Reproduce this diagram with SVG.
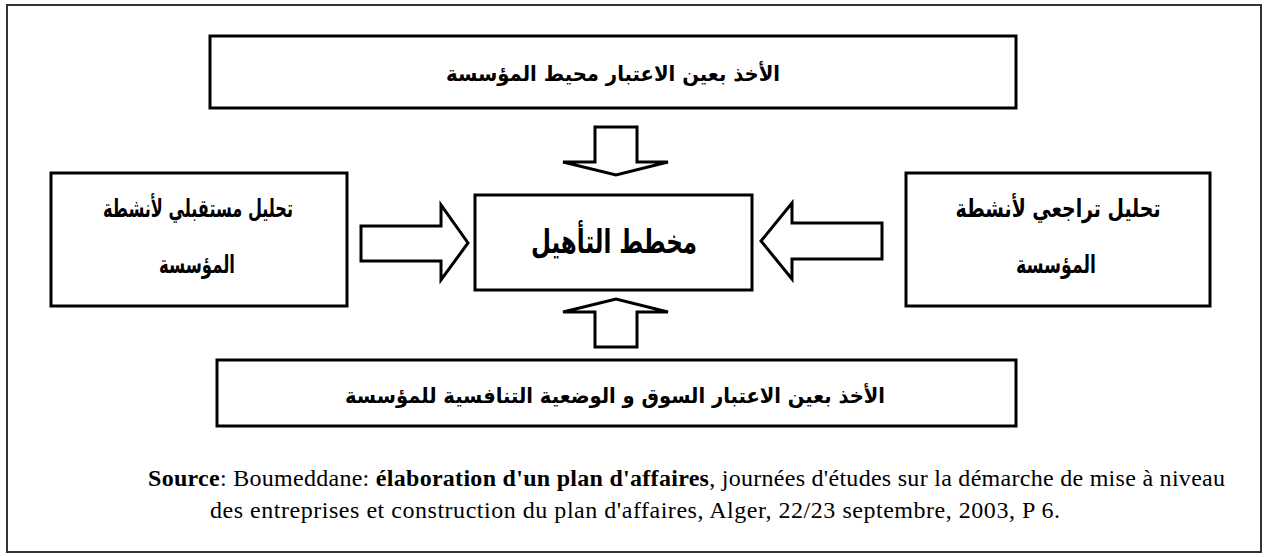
<svg xmlns="http://www.w3.org/2000/svg" width="1268" height="557" viewBox="0 0 1268 557">
<style>
.box{fill:#fff;stroke:#000;stroke-width:3}
.arr{fill:#fff;stroke:#000;stroke-width:3;stroke-linejoin:miter}
.ar{font-family:"DejaVu Sans","Noto Sans",sans-serif;font-weight:bold;fill:#000;text-anchor:middle}
.src{font-family:"Liberation Serif","Times New Roman",serif;font-size:24px;fill:#000;text-anchor:start}
</style>
<rect x="7" y="5" width="1254" height="547" fill="#fff" stroke="#333" stroke-width="2"/>
<g id="top">
<rect class="box" x="210" y="36" width="806" height="72"/>
<text class="ar" x="613" y="81" font-size="21" direction="rtl" textLength="334" lengthAdjust="spacingAndGlyphs">الأخذ بعين الاعتبار محيط المؤسسة</text>
</g>
<g id="center">
<rect class="box" x="475" y="195" width="277" height="95"/>
<text class="ar" x="614" y="253" font-size="33" direction="rtl" textLength="166" lengthAdjust="spacingAndGlyphs">مخطط التأهيل</text>
</g>
<g id="left">
<rect class="box" x="51" y="173" width="296" height="133"/>
<text class="ar" x="198" y="217" font-size="25" direction="rtl" textLength="190" lengthAdjust="spacingAndGlyphs">تحليل مستقبلي لأنشطة</text>
<text class="ar" x="197" y="273" font-size="25" direction="rtl" textLength="76" lengthAdjust="spacingAndGlyphs">المؤسسة</text>
</g>
<g id="right">
<rect class="box" x="906" y="173" width="304" height="133"/>
<text class="ar" x="1058" y="217" font-size="25" direction="rtl" textLength="205" lengthAdjust="spacingAndGlyphs">تحليل تراجعي لأنشطة</text>
<text class="ar" x="1056" y="273" font-size="25" direction="rtl" textLength="80" lengthAdjust="spacingAndGlyphs">المؤسسة</text>
</g>
<g id="bottom">
<rect class="box" x="217" y="360" width="799" height="66"/>
<text class="ar" x="615" y="403" font-size="21" direction="rtl" textLength="540" lengthAdjust="spacingAndGlyphs">الأخذ بعين الاعتبار السوق و الوضعية التنافسية للمؤسسة</text>
</g>
<g id="connectors">
<polygon class="arr" points="595,127 637,127 637,162 668,162 616,175 563,162 595,162"/>
<polygon class="arr" points="595,347 637,347 637,312 668,312 616,299 563,312 595,312"/>
<polygon class="arr" points="361,226 441,226 441,205 468,243 441,280 441,261 361,261"/>
<polygon class="arr" points="882,223 792,223 792,203 761,241 792,279 792,259 882,259"/>
</g>
<g id="source">
<text class="src" x="148" y="486" textLength="1077" lengthAdjust="spacing"><tspan font-weight="bold">Source</tspan>: Boumeddane: <tspan font-weight="bold">élaboration d'un plan d'affaires</tspan>, journées d'études sur la démarche de mise à niveau</text>
<text class="src" x="210" y="518" textLength="850" lengthAdjust="spacing">des entreprises et construction du plan d'affaires, Alger, 22/23 septembre, 2003, P 6.</text>
</g>
</svg>
